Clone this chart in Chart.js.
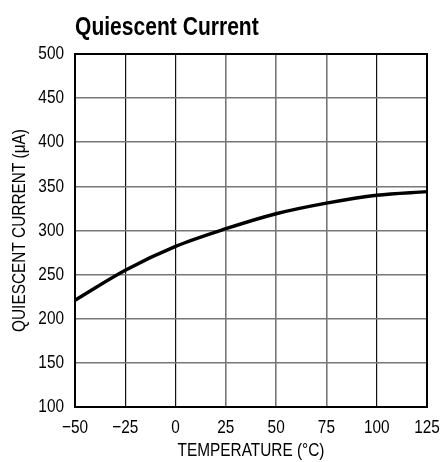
<!DOCTYPE html>
<html>
<head>
<meta charset="utf-8">
<script src="https://cdn.jsdelivr.net/npm/chart.js@4"></script>
<style>
  html, body { margin: 0; padding: 0; background: #fff; }
  #wrap { width: 444px; height: 462px; position: relative; }
</style>
</head>
<body>
<div id="wrap"><canvas id="c" width="444" height="462"></canvas></div>
<script>
// data
const temps = [-50, -25, 0, 25, 50, 75, 100, 125];
const current = [221, 255, 282, 302, 319, 331, 340, 344];
const xTicks = [-50, -25, 0, 25, 50, 75, 100, 125];
const yTicks = [100, 150, 200, 250, 300, 350, 400, 450, 500];
// vertical grid lines that print darker in the original
const darkX = [-25, 0, 100];

const FONT = '"Liberation Sans", Arial, sans-serif';
const SQUEEZE = 0.81; // no condensed face installed, so squeeze text horizontally

const ctx = document.getElementById('c').getContext('2d');
const rawFill = ctx.fillText.bind(ctx);
ctx.fillText = (t, x, y, mw) => {
  const w = ctx.measureText(t).width * SQUEEZE;
  rawFill(t, x, y, mw !== undefined ? Math.min(mw, w) : w);
};

// title + black frame
const framePlugin = {
  id: 'frame',
  afterDraw(chart) {
    const c = chart.ctx, a = chart.chartArea;
    c.save();
    c.strokeStyle = '#000';
    c.lineWidth = 2;
    c.strokeRect(a.left, a.top, a.right - a.left, a.bottom - a.top);
    c.fillStyle = '#000';
    c.font = 'bold 26px ' + FONT;
    c.textAlign = 'left';
    c.textBaseline = 'alphabetic';
    c.fillText('Quiescent Current', a.left, 35);
    c.restore();
  }
};

new Chart(ctx, {
  type: 'line',
  data: {
    datasets: [{
      data: temps.map((t, i) => ({ x: t, y: current[i] })),
      borderColor: '#000',
      borderWidth: 3.4,
      pointRadius: 0,
      cubicInterpolationMode: 'monotone',
      fill: false
    }]
  },
  options: {
    responsive: false,
    animation: false,
    layout: { padding: { top: 54, right: 17, left: 0, bottom: 0 } },
    plugins: { legend: { display: false }, tooltip: { enabled: false } },
    scales: {
      x: {
        type: 'linear',
        min: -50, max: 125,
        afterBuildTicks: s => { s.ticks = xTicks.map(v => ({ value: v })); },
        afterFit: s => {
          s.height = 55;
          s.paddingLeft = 0;
          s.paddingRight = 0;
        },
        grid: {
          drawTicks: false,
          color: c => (c.tick && darkX.includes(c.tick.value) ? '#111' : '#777'),
          lineWidth: c => (c.tick && darkX.includes(c.tick.value) ? 1.2 : 1.6)
        },
        border: { color: '#000', width: 2 },
        ticks: {
          color: '#000', padding: 9,
          font: { family: FONT, size: 19 },
          callback: v => (v < 0 ? '\u2212' + Math.abs(v) : '' + v)
        },
        title: {
          display: true, text: 'TEMPERATURE (\u00B0C)', color: '#000',
          font: { family: FONT, size: 19 }, padding: { top: -4, bottom: 0 }
        }
      },
      y: {
        min: 100, max: 500,
        afterBuildTicks: s => { s.ticks = yTicks.map(v => ({ value: v })); },
        afterFit: s => {
          s.width = 75;
          s.paddingTop = 0;
          s.paddingBottom = 0;
        },
        grid: { color: '#777', lineWidth: 1.6, drawTicks: false },
        border: { color: '#000', width: 2 },
        ticks: {
          color: '#000', padding: 11,
          font: { family: FONT, size: 19 }
        },
        title: {
          display: true, text: 'QUIESCENT CURRENT (\u03BCA)', color: '#000',
          font: { family: FONT, size: 19 }, padding: { top: 8, bottom: 0 }
        }
      }
    }
  },
  plugins: [framePlugin]
});
</script>
</body>
</html>
